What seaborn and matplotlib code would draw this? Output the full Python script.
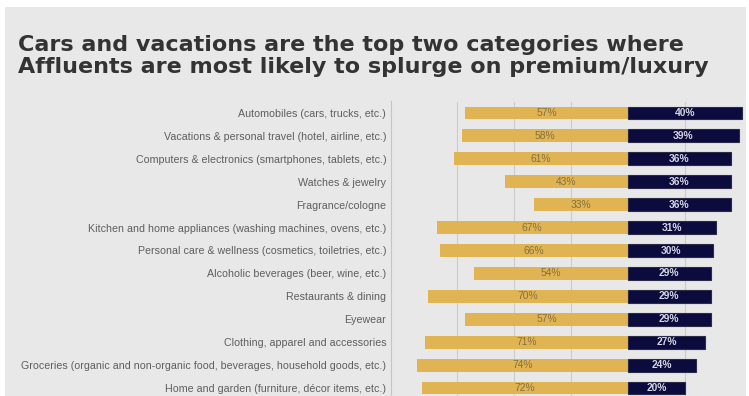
import matplotlib
matplotlib.use("Agg")
import matplotlib.pyplot as plt
from matplotlib.patches import Rectangle
import seaborn as sns
import pandas as pd

categories = [
    "Automobiles (cars, trucks, etc.)",
    "Vacations & personal travel (hotel, airline, etc.)",
    "Computers & electronics (smartphones, tablets, etc.)",
    "Watches & jewelry",
    "Fragrance/cologne",
    "Kitchen and home appliances (washing machines, ovens, etc.)",
    "Personal care & wellness (cosmetics, toiletries, etc.)",
    "Alcoholic beverages (beer, wine, etc.)",
    "Restaurants & dining",
    "Eyewear",
    "Clothing, apparel and accessories",
    "Groceries (organic and non-organic food, beverages, household goods, etc.)",
    "Home and garden (furniture, d\u00e9cor items, etc.)",
]
gold_values = [57, 58, 61, 43, 33, 67, 66, 54, 70, 57, 71, 74, 72]
navy_values = [40, 39, 36, 36, 36, 31, 30, 29, 29, 29, 27, 24, 20]
gridline_values = [-60, -40, -20, 20]

title_lines = [
    "Cars and vacations are the top two categories where",
    "Affluents are most likely to splurge on premium/luxury",
]

GOLD = "#e1b453"
NAVY = "#0b0b3e"
BG = "#e8e8e8"

sns.set_theme(style="white")
plt.rcParams["font.family"] = ["Liberation Sans", "DejaVu Sans"]

W, H = 749, 396
fig = plt.figure(figsize=(W / 100, H / 100), dpi=100)
fig.patch.set_facecolor("white")
fig.add_artist(Rectangle((5 / W, 0), (W - 8) / W, (H - 7) / H,
                         transform=fig.transFigure, facecolor=BG,
                         edgecolor="none", zorder=0))

ax_left, ax_right = 391, 746
ax_top, ax_bottom = 101.5, 399.5
ax = fig.add_axes([ax_left / W, (H - ax_bottom) / H,
                   (ax_right - ax_left) / W, (ax_bottom - ax_top) / H])
ax.set_facecolor("none")

df = pd.DataFrame({"category": categories,
                   "gold": [-v for v in gold_values],
                   "navy": navy_values})

for g in gridline_values:
    ax.axvline(g, color="#cbcbcb", lw=0.8, zorder=0)

sns.barplot(data=df, x="gold", y="category", color=GOLD, width=0.56,
            orient="h", ax=ax, saturation=1, linewidth=0)
sns.barplot(data=df, x="navy", y="category", color=NAVY, width=0.56,
            orient="h", ax=ax, saturation=1, edgecolor="#2b2b48", linewidth=0.8)

ax.bar_label(ax.containers[0], labels=[f"{v}%" for v in gold_values],
             label_type="center", fontsize=7.4, color="#83703e")
ax.bar_label(ax.containers[1], labels=[f"{v}%" for v in navy_values],
             label_type="center", fontsize=7.4, color="#d4d4e4",
             fontweight="bold")

ax.set_xlim(-83.0, 41.4)
ax.set_ylim(len(categories) - 0.5, -0.5)
ax.set_xlabel("")
ax.set_ylabel("")
ax.set_xticks([])
ax.tick_params(axis="y", length=0, pad=3.5, labelsize=7.7, labelcolor="#5e5e5e")

for side in ["top", "right", "bottom"]:
    ax.spines[side].set_visible(False)
ax.spines["left"].set_color("#c4c4c4")
ax.spines["left"].set_linewidth(0.8)

for text, baseline in zip(title_lines, [51, 73]):
    fig.text(18 / W, 1 - baseline / H, text, ha="left", va="baseline",
             fontsize=16.0, fontweight="bold", color="#333333",
             family=["DejaVu Sans"])

fig.savefig("out.png", dpi=100)
